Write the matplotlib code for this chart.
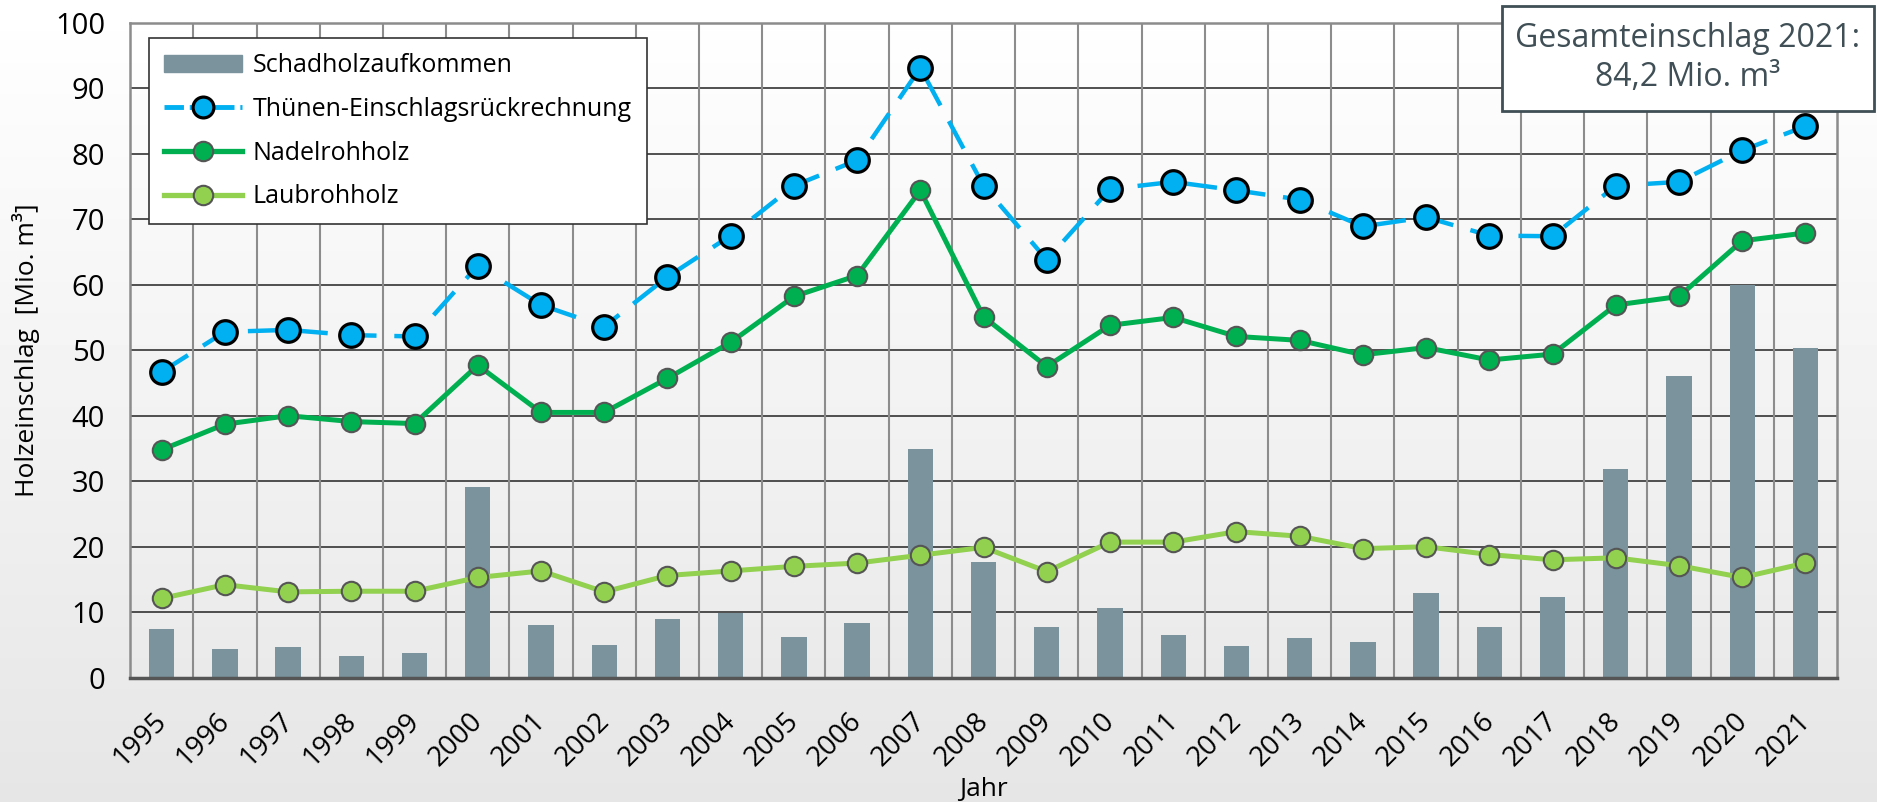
import numpy as np
import matplotlib.pyplot as plt
import matplotlib.transforms as mtransforms
from matplotlib.patches import Rectangle
from matplotlib.lines import Line2D

plt.rcParams['font.family'] = ['Open Sans', 'DejaVu Sans']

# Daten
jahre = [str(j) for j in range(1995, 2022)]
schadholz = [7.4, 4.4, 4.7, 3.3, 3.8, 29.1, 8.0, 5.0, 9.0, 9.9, 6.2, 8.3, 34.9,
             17.7, 7.7, 10.6, 6.5, 4.8, 6.1, 5.4, 12.9, 7.7, 12.3, 31.9, 46.1, 60.0, 50.4]
thuenen = [46.7, 52.8, 53.1, 52.3, 52.1, 62.9, 56.9, 53.6, 61.2, 67.5, 75.1, 79.0, 93.1,
           75.1, 63.8, 74.6, 75.7, 74.4, 73.0, 68.9, 70.3, 67.5, 67.4, 75.1, 75.7, 80.5, 84.2]
nadel = [34.8, 38.7, 40.0, 39.1, 38.8, 47.7, 40.5, 40.5, 45.7, 51.2, 58.2, 61.4, 74.4,
         55.1, 47.5, 53.8, 55.0, 52.1, 51.5, 49.3, 50.4, 48.5, 49.4, 56.9, 58.2, 66.7, 67.9]
laub = [12.1, 14.2, 13.1, 13.2, 13.2, 15.3, 16.3, 13.1, 15.6, 16.3, 17.0, 17.5, 18.7,
        19.9, 16.2, 20.7, 20.7, 22.3, 21.6, 19.7, 20.0, 18.8, 18.0, 18.3, 17.1, 15.3, 17.5]
y_ticks = list(range(0, 101, 10))

fig = plt.figure(figsize=(18.77, 8.02), dpi=100)

# Hintergrund-Verlauf
bg = fig.add_axes([0, 0, 1, 1], zorder=-10)
grad = np.linspace(1.0, 0.9, 256).reshape(-1, 1)
bg.imshow(grad, aspect='auto', cmap='gray', vmin=0, vmax=1, extent=[0, 1, 0, 1])
bg.axis('off')

ax = fig.add_axes([0.0693, 0.155, 0.9094, 0.8167])
ax.patch.set_alpha(0)
x = np.arange(len(jahre))

ax.bar(x, schadholz, width=0.4, color='#7a939c', zorder=2)
ax.plot(x, thuenen, color='#00b0f0', lw=3.2, dashes=(7, 4), marker='o', ms=17,
        mfc='#00b0f0', mec='black', mew=2.3, zorder=5)
ax.plot(x, nadel, color='#00b050', lw=3.6, marker='o', ms=14,
        mfc='#00b050', mec='#555555', mew=1.5, zorder=4)
ax.plot(x, laub, color='#92d050', lw=3.6, marker='o', ms=14,
        mfc='#92d050', mec='#555555', mew=1.5, zorder=4)

ax.set_xlim(-0.5, len(jahre) - 0.5)
ax.set_ylim(0, 100)
ax.set_yticks(y_ticks)
ax.tick_params(axis='y', labelsize=21, length=0, pad=18)
ax.set_xticks(x)
ax.set_xticklabels(jahre, rotation=45, ha='right', va='top', rotation_mode='anchor', fontsize=20)
ax.tick_params(axis='x', length=0, pad=21)
shift = mtransforms.ScaledTranslation(-0.09, 0, fig.dpi_scale_trans)
for lbl in ax.get_xticklabels():
    lbl.set_transform(lbl.get_transform() + shift)

for v in y_ticks[1:]:
    ax.axhline(v, color='#333333', lw=1.2, zorder=1)
for b in np.arange(0.5, len(jahre) - 0.5, 1):
    ax.axvline(b, color='#8c8c8c', lw=1.5, zorder=1)

for s in ['left', 'top', 'right']:
    ax.spines[s].set_color('#8c8c8c')
    ax.spines[s].set_linewidth(1.8)
ax.spines['bottom'].set_color('#555555')
ax.spines['bottom'].set_linewidth(2.5)

ax.set_ylabel('Holzeinschlag  [Mio. m³]', fontsize=19, va='center')
ax.yaxis.set_label_coords(-0.061, 0.5)
ax.set_xlabel('Jahr', fontsize=19, va='center')
ax.xaxis.set_label_coords(0.5, -0.171)

handles = [
    Rectangle((0, 0), 1, 1, color='#7a939c'),
    Line2D([], [], color='#00b0f0', lw=3.5, dashes=(4, 1.2), marker='o', ms=15,
           mfc='#00b0f0', mec='black', mew=2.3),
    Line2D([], [], color='#00b050', lw=3.8, marker='o', ms=14, mfc='#00b050',
           mec='#555555', mew=1.5),
    Line2D([], [], color='#92d050', lw=3.8, marker='o', ms=14, mfc='#92d050',
           mec='#555555', mew=1.5),
]
labels = ['Schadholzaufkommen', 'Thünen-Einschlagsrückrechnung', 'Nadelrohholz', 'Laubrohholz']
leg = fig.legend(handles, labels, loc='upper left', bbox_to_anchor=(149 / 1877, 1 - 38 / 802),
                 fontsize=18, frameon=True, fancybox=False, edgecolor='#333333',
                 framealpha=1, handlelength=3.1, labelspacing=0.75, borderpad=0.6,
                 handletextpad=0.45, borderaxespad=0)
leg.get_frame().set_linewidth(1.2)
leg.set_zorder(10)

# Infobox
box = Rectangle((1502 / 1877, 1 - 111 / 802), 372 / 1877, 105 / 802, transform=fig.transFigure,
                facecolor='white', edgecolor='#3f4f55', lw=2, zorder=20)
fig.add_artist(box)
fig.text(1688 / 1877, 1 - 58 / 802, 'Gesamteinschlag 2021:\n84,2 Mio. m³', ha='center', va='center',
         fontsize=23, color='#3f4f55', linespacing=1.25, zorder=21)

fig.savefig('out.png', dpi=100)
